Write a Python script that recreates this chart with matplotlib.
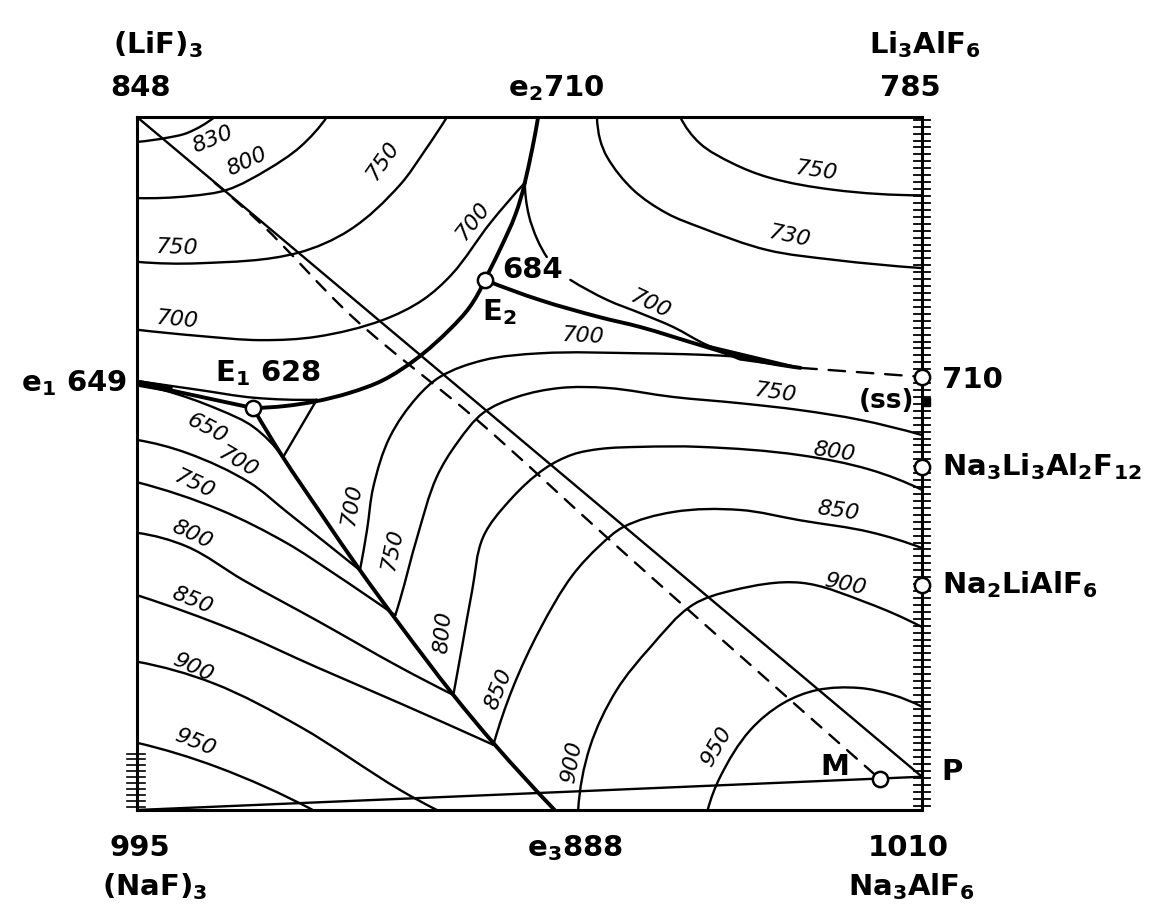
import numpy as np
import matplotlib
matplotlib.use("Agg")
import matplotlib.pyplot as plt
from matplotlib.path import Path
from matplotlib.patches import PathPatch

plt.rcParams['font.family'] = ['DejaVu Sans']
plt.rcParams['mathtext.fontset'] = 'custom'
plt.rcParams['mathtext.rm'] = 'DejaVu Sans:bold'
plt.rcParams['mathtext.it'] = 'DejaVu Sans:bold'
plt.rcParams['mathtext.default'] = 'rm'

# composition square: x -> Na3AlF6 side (0..100), y -> LiF side (0..100)

# --- boundary (eutectic) curves ---
e2_to_cusp = [(51.1, 100), (50.4, 95.7), (49.4, 90.5)]
cusp_to_E2 = [(49.4, 90.5), (48.2, 85.9), (46.2, 80.8), (44.3, 76.5)]
E2_to_ss = [(44.3, 76.5), (51.3, 73.6), (59.0, 71.1), (64.1, 69.7),
            (71.7, 67.1), (76.8, 65.4), (80.6, 64.5), (84.5, 63.8)]
ss_dashed = [(84.5, 63.8), (100, 62.5)]
E1_to_E2 = [(14.8, 58.0), (18.9, 58.3), (22.9, 59.0), (27.1, 60.2), (31.3, 62.0),
            (35.7, 65.2), (39.8, 69.3), (42.4, 72.6), (44.3, 76.5)]
E1_to_e3 = [(14.8, 58.0), (18.6, 50.9), (23.3, 43.0), (28.4, 34.6),
            (33.5, 26.7), (40.3, 16.6), (45.6, 9.4), (53.2, 0)]
e1_to_E1 = [(0, 61.6), (14.8, 58.0)]
e1_upper = [(0, 61.9), (8.0, 60.6), (14.8, 59.5), (22.9, 59.2)]
tie_short = [(18.6, 50.9), (22.9, 59.2)]

# --- section lines ---
diag_solid = [(0, 100), (100, 4.8)]
base_line = [(0, 0), (100, 4.8)]
diag_dashed = [(9.9, 90.5), (15.7, 84.7), (27.5, 71.1), (43.3, 56.3),
               (60.0, 39.2), (71.7, 27.4), (93.8, 5.3), (94.6, 4.5)]

# --- isotherms ---
iso_830 = [(0, 96.4), (3.8, 97.0), (6.4, 97.7), (9.9, 100)]
iso_800_lif = [(0, 88.3), (6.8, 88.6), (11.5, 89.5), (16.6, 92.4), (20.8, 95.7), (24.2, 100)]
iso_750_lif = [(0, 79.1), (8.0, 78.9), (20.5, 80.4), (27.1, 83.7),
               (33.5, 90.2), (36.7, 95.2), (39.5, 100)]
iso_700_lif = [(0, 69.3), (8.0, 68.4), (15.8, 67.8), (22.9, 68.3), (31.3, 70.7),
               (36.4, 73.6), (40.1, 77.3), (45.0, 84.7), (49.4, 90.5)]
iso_700_e2a = [(49.4, 90.5), (49.9, 85.9), (51.0, 82.3), (52.2, 79.8)]
iso_700_e2b = [(55.2, 76.5), (59.9, 73.6), (64.1, 71.7), (68.3, 69.7), (72.6, 67.1), (76.8, 65.4)]
iso_750_ur = [(69.2, 100), (71.7, 96.2), (75.9, 93.3), (80.4, 91.3), (88.7, 89.5), (100, 88.7)]
iso_730 = [(58.6, 100), (59.0, 96.7), (59.9, 94.2), (63.2, 89.5), (67.5, 86.1),
           (71.7, 84.1), (80.3, 80.8), (88.7, 79.4), (100, 78.2)]

iso_650 = [(0, 61.3), (3.3, 60.6), (10.6, 57.7), (14.8, 55.3), (18.6, 50.9)]
iso_700_naf = [(0, 53.4), (6.4, 51.5), (14.4, 47.2), (19.1, 43.0), (28.4, 34.6)]
iso_750_naf = [(0, 47.3), (10.6, 43.3), (19.1, 38.5), (25.0, 34.2), (32.9, 28.1)]
iso_800_naf = [(0, 40.0), (6.4, 38.0), (13.5, 33.2), (23.3, 27.1), (33.5, 20.6), (40.3, 16.6)]
iso_850_naf = [(0, 31.0), (12.2, 26.0), (22.9, 20.6), (33.5, 15.4), (45.4, 9.4)]
iso_900_naf = [(0, 21.4), (9.7, 18.3), (20.8, 12.0), (33.5, 2.9), (38.2, 0)]
iso_950_naf = [(0, 9.7), (10.2, 6.2), (22.4, 0)]

iso_700_cry = [(28.4, 34.6), (29.3, 40.4), (30.1, 46.6), (32.2, 53.8), (35.7, 59.6),
               (38.6, 62.5), (44.1, 64.9), (51.3, 65.9), (64.1, 65.9), (71.7, 65.7), (76.8, 65.4)]
iso_750_cry = [(32.9, 28.1), (33.5, 30.3), (35.7, 39.4), (38.2, 48.1), (40.8, 53.0),
               (44.1, 57.3), (48.4, 59.6), (53.9, 60.9), (59.9, 60.9), (68.3, 59.6),
               (76.8, 58.7), (84.5, 57.7), (92.1, 56.3), (100, 54.1)]
iso_800_cry = [(40.3, 16.6), (41.4, 23.5), (42.7, 31.7), (44.1, 39.4), (47.5, 44.7),
               (52.0, 49.3), (55.5, 51.3), (59.0, 52.1), (64.1, 52.4), (71.7, 52.4),
               (84.5, 51.2), (93.4, 49.1), (100, 46.2)]
iso_850_cry = [(45.4, 9.4), (47.9, 17.7), (51.3, 26.0), (55.5, 33.9), (59.0, 38.2),
               (61.9, 40.8), (68.3, 43.0), (76.8, 43.3), (84.5, 41.8), (93.4, 40.1), (100, 37.8)]
iso_900_cry = [(56.2, 0), (57.7, 9.1), (61.1, 17.3), (65.4, 23.5), (70.8, 29.6),
               (75.9, 31.7), (84.5, 32.8), (93.0, 29.9), (100, 26.4)]
iso_950_cry = [(72.7, 0), (74.3, 4.8), (78.1, 11.5), (82.3, 15.4), (86.6, 17.3),
               (92.1, 17.6), (96.3, 16.6), (100, 14.9)]

thin_curves = [iso_830, iso_800_lif, iso_750_lif, iso_700_lif, iso_700_e2a, iso_700_e2b,
               iso_750_ur, iso_730, iso_650, iso_700_naf, iso_750_naf, iso_800_naf,
               iso_850_naf, iso_900_naf, iso_950_naf, iso_700_cry, iso_750_cry,
               iso_800_cry, iso_850_cry, iso_900_cry, iso_950_cry, e1_upper, tie_short]
thick_curves = [e2_to_cusp, cusp_to_E2, E2_to_ss, E1_to_E2, E1_to_e3, e1_to_E1]

# isotherm labels: text, x, y, rotation
iso_labels = [("830", 9.7, 96.7, 22), ("800", 14.0, 93.5, 25), ("750", 31.3, 93.8, 55),
              ("750", 5.1, 81.1, -2), ("700", 5.2, 70.7, -5), ("700", 42.8, 85.1, 52),
              ("700", 65.5, 73.0, -25), ("700", 56.9, 68.4, -3), ("750", 86.6, 92.2, -8),
              ("730", 83.2, 82.8, -12), ("650", 8.9, 55.1, -28), ("700", 12.9, 50.2, -30),
              ("750", 7.4, 47.0, -25), ("800", 7.0, 39.7, -25), ("850", 7.0, 30.3, -22),
              ("900", 7.1, 20.5, -25), ("950", 7.4, 9.7, -22), ("700", 27.4, 44.2, 80),
              ("750", 32.5, 37.7, 78), ("800", 39.0, 25.7, 85), ("850", 46.1, 17.5, 68),
              ("900", 55.4, 6.9, 80), ("950", 73.8, 9.1, 60), ("750", 81.4, 60.2, -8),
              ("800", 88.8, 51.7, -8), ("850", 89.3, 43.1, -8), ("900", 90.2, 32.5, -12)]

# invariant points and compounds (open circles)
points_x = [14.8, 44.3, 100, 100, 100, 94.6]
points_y = [58.0, 76.5, 62.5, 49.5, 32.5, 4.5]

# pixels per data unit, so tangents are worked out in screen proportions
SX, SY = 7.85, 6.93


def smooth(pts):
    p = np.asarray(pts, float) * [SX, SY]
    n = len(p)
    if n < 3:
        return Path(p / [SX, SY])
    seg = np.diff(p, axis=0)
    d = np.hypot(seg[:, 0], seg[:, 1])
    u = seg / d[:, None]
    tan = np.zeros_like(p)
    for i in range(1, n - 1):
        t = u[i - 1] + u[i]
        tan[i] = t / np.hypot(*t)
    t0 = 2 * u[0] - tan[1]
    tan[0] = t0 / np.hypot(*t0)
    tn = 2 * u[-1] - tan[-2]
    tan[-1] = tn / np.hypot(*tn)
    verts = [p[0]]
    codes = [Path.MOVETO]
    for i in range(n - 1):
        verts += [p[i] + tan[i] * d[i] / 3, p[i + 1] - tan[i + 1] * d[i] / 3, p[i + 1]]
        codes += [Path.CURVE4] * 3
    return Path(np.array(verts) / [SX, SY], codes)


def draw(ax, pts, lw, ls='-'):
    ax.add_patch(PathPatch(smooth(pts), fill=False, lw=lw, ls=ls, ec='black',
                           capstyle='round', joinstyle='round', zorder=2))


fig = plt.figure(figsize=(11.49, 9.15), dpi=100)
ax = fig.add_axes([137 / 1149, 105 / 915, 785 / 1149, 693 / 915])
ax.set_xlim(0, 100)
ax.set_ylim(0, 100)
ax.set_xticks([])
ax.set_yticks([])
for s in ax.spines.values():
    s.set_linewidth(2.2)

for c in thin_curves:
    draw(ax, c, 1.7)
for c in thick_curves:
    draw(ax, c, 2.8)

draw(ax, diag_solid, 1.7)
draw(ax, base_line, 1.7)
draw(ax, diag_dashed, 1.7, ls=(0, (5.5, 4.5)))
draw(ax, ss_dashed, 1.7, ls=(0, (7, 5)))

# heavy ends where the curves converge
ax.plot([0, 4.5], [61.6, 60.7], color='black', lw=5, solid_capstyle='butt')
ax.fill([72.0, 84.5, 76.8], [67.2, 63.8, 65.0], color='black', lw=1.5, ec='black')

# hatching along the Li3AlF6 - Na3AlF6 edge and the NaF corner
for yy in np.arange(0.6, 100, 1.0):
    ax.plot([99.0, 101.0], [yy, yy], color='black', lw=1.3, clip_on=False)
for yy in np.arange(0.5, 8.3, 0.85):
    ax.plot([-1.3, 1.0], [yy, yy], color='black', lw=1.2, clip_on=False)
ax.plot([100.5], [58.9], 's', ms=6, color='black', clip_on=False)

ax.plot(points_x, points_y, 'o', ms=11, mfc='white', mec='black', mew=1.8,
        clip_on=False, zorder=5)

for t, x, y, r in iso_labels:
    ax.text(x, y, t, rotation=r, fontsize=16, style='italic', ha='center', va='center',
            rotation_mode='anchor', zorder=4)

big = dict(fontsize=21, fontweight='bold', va='center', clip_on=False)
ax.text(50.4, 77.9, "684", ha='center', **big)
ax.text(46.2, 71.9, "E$_2$", ha='center', **big)
ax.text(16.7, 63.1, "E$_1$ 628", ha='center', **big)
ax.text(88.9, 6.2, "M", ha='center', **big)
ax.text(95.5, 59.0, "(ss)", ha='center', fontsize=19, fontweight='bold', va='center')

ax.text(2.7, 110.4, "(LiF)$_3$", ha='center', **big)
ax.text(0.4, 104.2, "848", ha='center', **big)
ax.text(53.4, 104.2, "e$_2$710", ha='center', **big)
ax.text(100.4, 110.4, "Li$_3$AlF$_6$", ha='center', **big)
ax.text(98.5, 104.2, "785", ha='center', **big)
ax.text(-1.3, 61.6, "e$_1$ 649", ha='right', **big)
ax.text(102.5, 62.0, "710", ha='left', **big)
ax.text(102.5, 49.5, "Na$_3$Li$_3$Al$_2$F$_{12}$", ha='left', **big)
ax.text(102.5, 32.5, "Na$_2$LiAlF$_6$", ha='left', **big)
ax.text(102.5, 5.5, "P", ha='left', **big)
ax.text(0.4, -5.5, "995", ha='center', **big)
ax.text(2.3, -11.1, "(NaF)$_3$", ha='center', **big)
ax.text(55.8, -5.5, "e$_3$888", ha='center', **big)
ax.text(98.2, -5.5, "1010", ha='center', **big)
ax.text(98.7, -11.1, "Na$_3$AlF$_6$", ha='center', **big)

fig.savefig("out.png", dpi=100)
